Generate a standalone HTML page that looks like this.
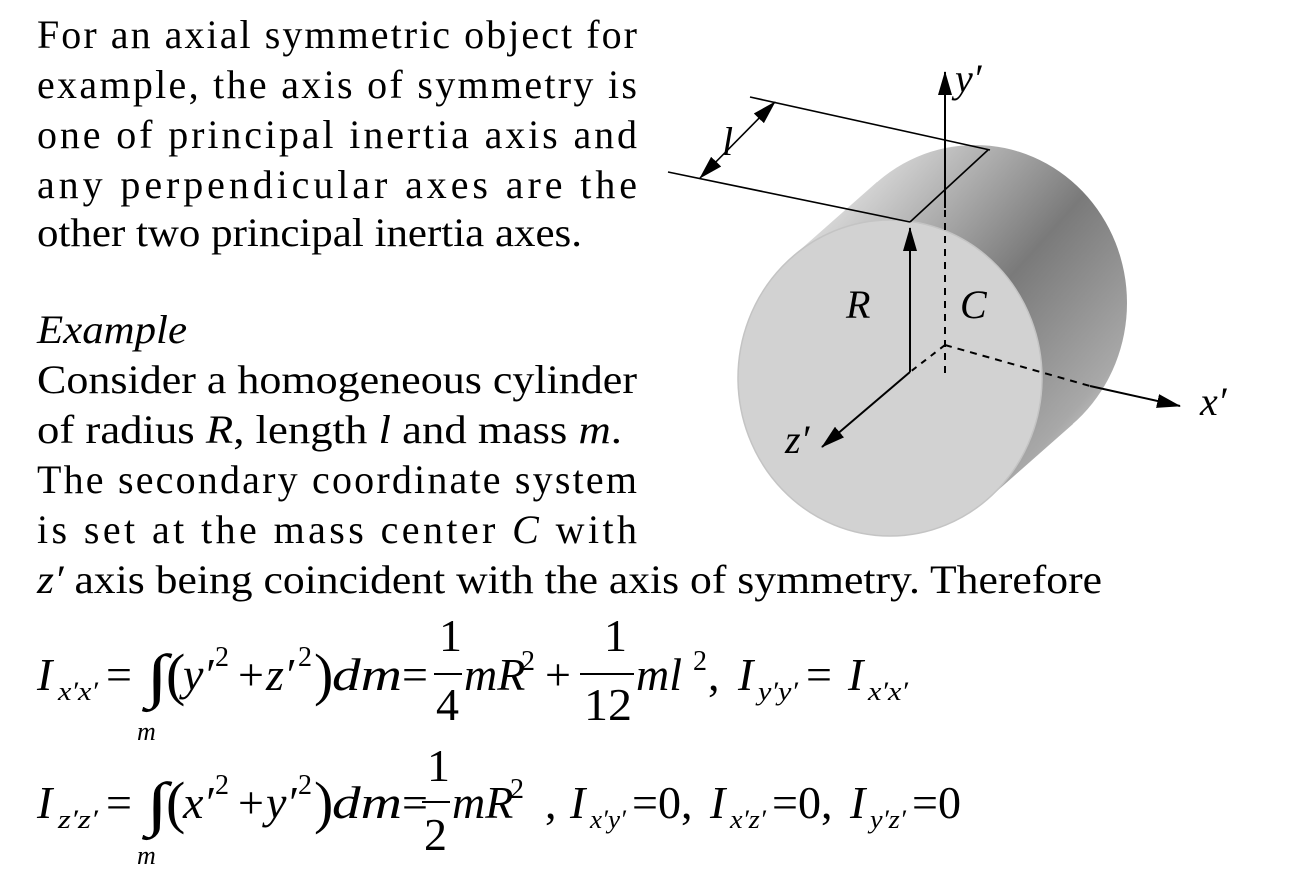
<!DOCTYPE html>
<html><head><meta charset="utf-8"><style>
html,body{margin:0;padding:0;background:#fff;}
svg{display:block;}
svg, svg text, svg tspan{font-family:"Liberation Serif","Times New Roman",Times,serif;fill:#000;}
.i{font-style:italic;}
</style></head><body>
<svg width="1312" height="875" viewBox="0 0 1312 875" xmlns="http://www.w3.org/2000/svg" font-family="Liberation Serif, Times New Roman, serif">
<defs>
<linearGradient id="side" gradientUnits="userSpaceOnUse" x1="790" y1="260" x2="1080" y2="520">
<stop offset="0" stop-color="#d8d8d8"/>
<stop offset="0.45" stop-color="#7a7a7a"/>
<stop offset="0.8" stop-color="#a8a8a8"/>
<stop offset="1" stop-color="#f2f2f2"/>
</linearGradient>
<marker id="ahb" markerWidth="24" markerHeight="14" refX="23" refY="7" orient="auto" markerUnits="userSpaceOnUse">
<path d="M0,0 L24,7 L0,14 z" fill="#000"/></marker>
<marker id="ahs" markerWidth="24" markerHeight="14" refX="1" refY="7" orient="auto" markerUnits="userSpaceOnUse">
<path d="M24,0 L0,7 L24,14 z" fill="#000"/></marker>
</defs>

<g font-size="40">
<text x="37" y="48" textLength="600" lengthAdjust="spacing">For an axial symmetric object for</text>
<text x="37" y="98" textLength="600" lengthAdjust="spacing">example, the axis of symmetry is</text>
<text x="37" y="148" textLength="600" lengthAdjust="spacing">one of principal inertia axis and</text>
<text x="37" y="198" textLength="600" lengthAdjust="spacing">any perpendicular axes are the</text>
<text x="37" y="246" textLength="545" lengthAdjust="spacingAndGlyphs">other two principal inertia axes.</text>
<text x="37" y="343" class="i" textLength="150" lengthAdjust="spacingAndGlyphs">Example</text>
<text x="37" y="393" textLength="600" lengthAdjust="spacingAndGlyphs">Consider a homogeneous cylinder</text>
<text x="37" y="443" textLength="585" lengthAdjust="spacingAndGlyphs">of radius <tspan class="i">R</tspan>, length <tspan class="i">l</tspan> and mass  <tspan class="i">m</tspan>.</text>
<text x="37" y="493" textLength="600" lengthAdjust="spacing">The secondary coordinate system</text>
<text x="37" y="543" textLength="600" lengthAdjust="spacing">is set at the mass center <tspan class="i">C</tspan> with</text>
<text x="37" y="593" textLength="1065" lengthAdjust="spacingAndGlyphs"><tspan class="i">z′</tspan> axis being coincident with the axis of symmetry. Therefore</text>
</g>

<ellipse cx="975" cy="303" rx="152" ry="158" fill="url(#side)"/>
<polygon points="988,499 1073,424 877,182 792,257" fill="url(#side)"/>
<ellipse cx="890" cy="378" rx="152" ry="158" fill="#d2d2d2" stroke="#c4c4c4" stroke-width="1.5"/>

<g stroke="#000" stroke-width="1.6" fill="none">
<line x1="668" y1="172" x2="910" y2="222"/>
<line x1="750" y1="97" x2="990" y2="150"/>
<line x1="910" y1="222" x2="988" y2="150"/>
<line x1="700" y1="178" x2="775" y2="102" marker-start="url(#ahs)" marker-end="url(#ahb)"/>
</g>
<g stroke="#000" stroke-width="2" fill="none">
<line x1="945" y1="208" x2="945" y2="72" marker-end="url(#ahb)"/>
<line x1="945" y1="210" x2="945" y2="375" stroke-dasharray="7,6"/>
<line x1="945" y1="345" x2="1090" y2="386" stroke-dasharray="7,6"/>
<line x1="1090" y1="386" x2="1180" y2="406" marker-end="url(#ahb)"/>
<line x1="945" y1="345" x2="910" y2="372" stroke-dasharray="6,6"/>
<line x1="910" y1="372" x2="910" y2="228" marker-end="url(#ahb)"/>
<line x1="910" y1="372" x2="822" y2="447" marker-end="url(#ahb)"/>
</g>
<g font-size="40">
<text x="955" y="92" class="i">y′</text>
<text x="1200" y="415" class="i">x′</text>
<text x="785" y="453" class="i">z′</text>
<text x="846" y="318" class="i">R</text>
<text x="960" y="318" class="i">C</text>
<text x="722" y="155" class="i">l</text>
</g>

<g font-size="46">
<text x="37" y="690" class="i">I</text>
<text x="58" y="700" font-size="26" class="i" textLength="40" lengthAdjust="spacingAndGlyphs">x′x′</text>
<text x="106" y="690">=</text>
<text x="146" y="696" font-size="60" textLength="22" lengthAdjust="spacingAndGlyphs">∫</text>
<text x="166" y="694" font-size="58">(</text>
<text x="183" y="690" class="i">y′</text>
<text x="215" y="666" font-size="28">2</text>
<text x="238" y="690">+</text>
<text x="266" y="690" class="i">z′</text>
<text x="298" y="666" font-size="28">2</text>
<text x="314" y="694" font-size="58">)</text>
<text x="332" y="690" class="i" textLength="70" lengthAdjust="spacingAndGlyphs">dm</text>
<text x="402" y="690">=</text>
<text x="439" y="651">1</text>
<line x1="434" y1="674" x2="462" y2="674" stroke="#000" stroke-width="2"/>
<text x="436" y="720">4</text>
<text x="464" y="690" class="i">mR</text>
<text x="521" y="670" font-size="28">2</text>
<text x="545" y="690">+</text>
<text x="604" y="651">1</text>
<line x1="580" y1="674" x2="634" y2="674" stroke="#000" stroke-width="2"/>
<text x="584" y="720" textLength="48" lengthAdjust="spacingAndGlyphs">12</text>
<text x="636" y="690" class="i">ml</text>
<text x="693" y="670" font-size="28">2</text>
<text x="708" y="690">,</text>
<text x="738" y="690" class="i">I</text>
<text x="758" y="700" font-size="26" class="i" textLength="40" lengthAdjust="spacingAndGlyphs">y′y′</text>
<text x="806" y="690">=</text>
<text x="848" y="690" class="i">I</text>
<text x="868" y="700" font-size="26" class="i" textLength="40" lengthAdjust="spacingAndGlyphs">x′x′</text>
<text x="137" y="740" font-size="26" class="i">m</text>
</g>

<g font-size="46">
<text x="37" y="818" class="i">I</text>
<text x="58" y="828" font-size="26" class="i" textLength="40" lengthAdjust="spacingAndGlyphs">z′z′</text>
<text x="106" y="818">=</text>
<text x="146" y="824" font-size="60" textLength="22" lengthAdjust="spacingAndGlyphs">∫</text>
<text x="166" y="822" font-size="58">(</text>
<text x="183" y="818" class="i">x′</text>
<text x="215" y="794" font-size="28">2</text>
<text x="238" y="818">+</text>
<text x="266" y="818" class="i">y′</text>
<text x="298" y="794" font-size="28">2</text>
<text x="314" y="822" font-size="58">)</text>
<text x="332" y="818" class="i" textLength="70" lengthAdjust="spacingAndGlyphs">dm</text>
<text x="402" y="818">=</text>
<text x="427" y="781">1</text>
<line x1="422" y1="802" x2="450" y2="802" stroke="#000" stroke-width="2"/>
<text x="424" y="850">2</text>
<text x="452" y="818" class="i">mR</text>
<text x="510" y="798" font-size="28">2</text>
<text x="545" y="818">,</text>
<text x="570" y="818" class="i">I</text>
<text x="590" y="828" font-size="26" class="i" textLength="36" lengthAdjust="spacingAndGlyphs">x′y′</text>
<text x="632" y="818">=0,</text>
<text x="710" y="818" class="i">I</text>
<text x="730" y="828" font-size="26" class="i" textLength="36" lengthAdjust="spacingAndGlyphs">x′z′</text>
<text x="772" y="818">=0,</text>
<text x="850" y="818" class="i">I</text>
<text x="870" y="828" font-size="26" class="i" textLength="36" lengthAdjust="spacingAndGlyphs">y′z′</text>
<text x="912" y="818">=0</text>
<text x="137" y="864" font-size="26" class="i">m</text>
</g>
</svg>
</body></html>
